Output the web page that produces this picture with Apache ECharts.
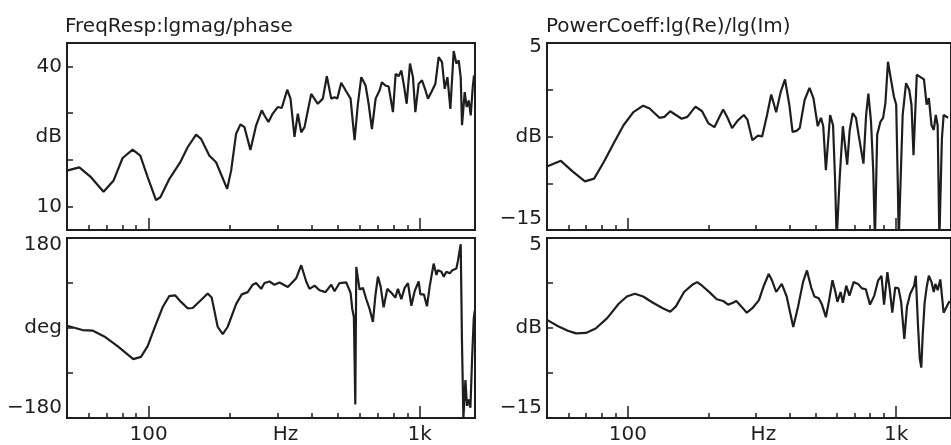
<!DOCTYPE html>
<html><head><meta charset="utf-8">
<script src="https://cdn.jsdelivr.net/npm/echarts@6/dist/echarts.min.js"></script>
<style>html,body{margin:0;padding:0;background:#fff}#c{width:951px;height:445px}</style>
</head><body><div id="c"></div>
<script>
const panelTitles = ['FreqResp:lgmag/phase', 'PowerCoeff:lg(Re)/lg(Im)'];

// frequency axis (Hz)
const freqMin = 50, freqMax = 1600;
const minorTicks = [60, 70, 80, 90, 200, 300, 400, 500, 600, 700, 800, 900];
const majorTicks = [100, 1000];
const xLabelValues = [100, 320, 1000];
const xLabelText = {100: '100', 320: 'Hz', 1000: '1k'};

// FreqResp magnitude [Hz, dB]
const magData = [[50,17.7],[55.5,18.4],[61.3,16.3],[68.2,13.2],[74.3,15.6],[80.2,20.4],[87.3,22.2],[93.2,20.9],[99.2,16.3],[106.5,11.4],[110.5,12.0],[119.2,15.9],[130.9,19.5],[139.3,22.7],[149.7,25.4],[156.1,24.5],[167.6,20.9],[177.4,19.5],[194.9,13.8],[201.6,17.7],[210.3,25.6],[218.2,27.6],[225.7,27.0],[237.5,22.1],[249.3,27.4],[261.5,30.6],[267.6,29.5],[276.8,28.1],[287.1,29.9],[299.6,31.3],[309.9,31.1],[324.6,35.0],[333.8,33.1],[345.3,24.9],[355.2,29.9],[365.6,25.9],[376,27.0],[398,34.1],[421,32.0],[439.3,33.1],[454.5,37.9],[471.8,33.1],[485.3,33.4],[496.6,33.1],[513.6,36.5],[532.8,34.9],[556,33.1],[575.3,24.2],[591.7,32.0],[609,37.7],[631.7,35.9],[648.1,32.0],[666.6,26.6],[688,33.1],[711.7,34.9],[725.7,36.6],[747,35.9],[768.3,35.7],[797,30.2],[815.4,38.4],[836.5,37.9],[856,39.1],[875,35.9],[895.4,32.0],[920.9,40.6],[944.6,37.7],[964,30.2],[991.5,36.3],[1020,37.0],[1050,34.9],[1073,33.1],[1105,34.5],[1143,36.3],[1175,42.0],[1209,40.9],[1237,35.2],[1266,37.7],[1298,30.9],[1335,43.3],[1366,40.6],[1393,41.3],[1417,37.7],[1433,27.4],[1466,34.5],[1491,31.3],[1517,32.7],[1543,29.5],[1570,35.6],[1587,38.1]];

// FreqResp phase [Hz, deg]
const phaseData = [[50,4.5],[53.2,0.6],[57,-4.1],[62.1,-5.2],[68.6,-16.9],[76.8,-36.3],[87.8,-62.3],[93.7,-57.7],[99.2,-36.3],[105,-0.8],[112.6,41.4],[119.2,63.9],[125.2,65.3],[131.7,52.2],[139.3,39.4],[145.4,40],[156.1,56.1],[165.2,69.1],[170.9,60.8],[179.8,2.5],[187.7,-12.4],[195.8,2.5],[210.3,47.8],[220.6,67.2],[232.1,71.7],[242.2,86.6],[249.3,89.9],[260.2,78.3],[267.6,89.9],[279.2,93],[291.3,86.6],[304,91.1],[326.3,82.1],[350.4,99.6],[365.6,125.5],[381.5,93],[392.3,78.3],[409.4,84.7],[427.2,75.5],[449.4,71.7],[471.8,86.6],[485.3,73.6],[506.3,89.9],[536,91.1],[556,70.5],[564.1,38.1],[571.9,21.9],[578.8,-152.8],[583.7,122.2],[600.2,76.9],[617.3,80.2],[635.5,57.5],[653.6,38.1],[672.3,12.2],[686.2,63.9],[701.5,102.7],[717.7,83.3],[736.2,41.4],[759.8,78.3],[786.1,70.5],[813.4,60.8],[831.6,78.3],[856,57.5],[880.2,80.2],[905.4,89.9],[931.8,44.5],[958.3,73.6],[991.5,93],[1006,67.2],[1037,67.2],[1064,43.3],[1089,83.3],[1126,128.8],[1153,106],[1168,115.7],[1203,112.4],[1227,102.7],[1255,112.4],[1291,109.3],[1321,115.7],[1366,119],[1385,135.2],[1417,167.6],[1433,-33.2],[1450,-178.9],[1475,-104.3],[1495,-156.1],[1517,-143.1],[1539,-159.4],[1560,-65.4],[1583,18.6],[1597,34.8]];

// PowerCoeff lg(Re) [Hz, dB]
const reData = [[50,-8.2],[56.3,-7.6],[62.4,-8.75],[69.2,-9.8],[74.9,-9.5],[81.5,-7.7],[88.7,-5.7],[96.4,-3.8],[104.9,-2.4],[114.1,-1.7],[120.6,-2.0],[131.2,-3.0],[136.9,-2.9],[143.9,-2.3],[151.1,-2.7],[158.8,-3.1],[166.7,-2.9],[178.7,-1.8],[189.1,-2.3],[199.8,-3.6],[210.2,-4.0],[218.7,-3.0],[226.7,-2.1],[235.3,-3.0],[244.6,-4.1],[256.6,-3.3],[270.6,-2.7],[279.1,-3.2],[291.1,-5.4],[305.4,-4.9],[316.6,-5.0],[330.2,-2.7],[342.3,-0.5],[357.1,-2.4],[371.5,-0.2],[385.2,1.1],[399.7,-1.6],[411,-4.5],[425.1,-4.4],[437,-4.1],[455.8,-1.1],[475.3,0.2],[491.6,-0.9],[510.1,-3.9],[524.5,-3.0],[534.8,-3.9],[547,-8.6],[567.3,-2.7],[581.7,-3.8],[591.6,-9.5],[600.1,-16],[615.5,-9.5],[632.8,-3.9],[643.6,-3.8],[656.7,-8.0],[671.2,-4.3],[688.4,-2.5],[708.3,-3.0],[724,-4.8],[755.1,-7.9],[772.4,-2.7],[787.5,-0.4],[805.6,-3.4],[821.3,-8.75],[833.1,-16],[849.4,-4.8],[874,-3.4],[893.5,-3.0],[911.6,-1.4],[931.8,3.0],[958.7,0.9],[979.9,-0.7],[1000,-1.6],[1014,-10.2],[1022,-16],[1037,-16],[1057,-2.7],[1088,0.7],[1118,0.0],[1140,-1.6],[1160,-7.0],[1193,1.6],[1240,1.3],[1269,1.1],[1298,-1.6],[1323,-0.9],[1354,-3.8],[1380,-4.3],[1404,-2.7],[1427,-3.8],[1448,-16],[1480,-5.2],[1502,-2.7],[1560,-3]];

// PowerCoeff lg(Im) [Hz, dB]
const imData = [[50,-4.1],[55,-4.8],[59.8,-5.3],[64.2,-5.6],[69.8,-5.55],[75.9,-5.05],[83.8,-3.9],[92.5,-2.3],[99.2,-1.5],[106.3,-1.2],[114.1,-1.5],[124.1,-2.2],[135,-2.8],[143.9,-3.2],[151.1,-2.6],[162,-1.0],[173.8,-0.2],[181.3,0.1],[189.1,-0.3],[202.7,-1.1],[214.5,-1.8],[226.7,-2.0],[236.5,-2.4],[246.6,-2.2],[253.8,-2.0],[264.7,-2.6],[267.7,-2.8],[277.5,-3.3],[291.1,-2.8],[308,-1.9],[321.2,-0.3],[335,1.0],[344.5,0.3],[357.1,-1.0],[374.6,-0.1],[390.8,-1.5],[413.4,-4.9],[431.1,-2.6],[449.6,0.1],[465,1.4],[482.2,-0.5],[495.8,-1.5],[514.5,-1.7],[528.9,-2.4],[547,-3.8],[562.5,-1.9],[578.8,0.3],[591.6,-0.8],[603.7,-2.1],[620.6,-1.0],[632.8,-2.2],[651.3,-0.3],[669.5,-1.4],[694.2,0.1],[720.4,-0.1],[745.1,-0.6],[770.5,-0.7],[798.7,-2.4],[828.5,-1.4],[856.7,0.3],[881.4,0.8],[900.9,-2.4],[927,1.2],[945.1,-0.6],[966.9,-3.3],[991.6,-0.5],[1020,-0.6],[1043,-2.1],[1072,-6.2],[1097,-2.6],[1128,-1.2],[1166,-0.3],[1183,0.8],[1206,-4.8],[1224,-8.4],[1240,-9.4],[1255,-5.8],[1276,-2.2],[1298,-0.5],[1323,0.8],[1354,0.1],[1380,-1.0],[1400,-0.1],[1427,-0.8],[1460,0.4],[1502,-3.3],[1580,-2]];

// y-axes: ranges, tick values, label values & texts
const yRanges = [[5, 45], [-180, 180], [-15, 5], [-15, 5]];
const yTicks = [[10, 20, 30, 40], [-90, 0, 90], [-10, -5, 0], [-10, -5, 0]];
const yLabelValues = [[10, 25, 40], [-180, 0, 180], [-15, -5, 5], [-15, -5, 5]];
const yLabelTexts = [
  {10: '10', 25: 'dB', 40: '40'},
  {'-180': '\u2212180', 0: 'deg', 180: '180'},
  {'-15': '\u221215', '-5': 'dB', 5: '5'},
  {'-15': '\u221215', '-5': 'dB', 5: '5'}
];

const INK = '#1e1e1e';
const FONT = 'DejaVu Sans';
const grids = [
  {left: 67, top: 43, width: 408, height: 187},
  {left: 67, top: 238, width: 408, height: 186},
  {left: 547, top: 43, width: 412, height: 187},
  {left: 547, top: 238, width: 412, height: 186}
];
const topPad = [0, 14, 7, 14];
const botPad = [0, 21, 23, 21];
const seriesData = [magData, phaseData, reData, imData];
const showXLabels = [false, true, false, true];

const option = {
  animation: false,
  backgroundColor: '#fff',
  title: [
    {text: panelTitles[0], left: 65, top: 17, padding: 0,
     textStyle: {fontFamily: FONT, fontSize: 20, fontWeight: 'normal', color: INK}},
    {text: panelTitles[1], left: 546, top: 17, padding: 0,
     textStyle: {fontFamily: FONT, fontSize: 20, fontWeight: 'normal', color: INK}}
  ],
  grid: grids.map(g => Object.assign({show: true, borderColor: INK, borderWidth: 2, backgroundColor: 'transparent', containLabel: false}, g)),
  xAxis: [],
  yAxis: [],
  series: []
};

grids.forEach((g, i) => {
  option.xAxis.push({
    type: 'log', logBase: 10, gridIndex: i, min: freqMin, max: freqMax, position: 'bottom',
    axisLine: {show: false, onZero: false}, splitLine: {show: false},
    axisTick: {show: true, inside: true, length: 5, customValues: minorTicks, lineStyle: {color: INK, width: 1.5}},
    axisLabel: {show: showXLabels[i], customValues: xLabelValues, margin: 7,
      formatter: v => xLabelText[Math.round(v)] || '',
      fontFamily: FONT, fontSize: 20, color: INK}
  });
  option.xAxis.push({
    type: 'log', logBase: 10, gridIndex: i, min: freqMin, max: freqMax, position: 'bottom',
    axisLine: {show: false, onZero: false}, splitLine: {show: false},
    axisTick: {show: true, inside: true, length: 12, customValues: majorTicks, lineStyle: {color: INK, width: 1.5}},
    axisLabel: {show: false}
  });
  const [mn, mx] = yRanges[i];
  const texts = yLabelTexts[i];
  option.yAxis.push({
    type: 'value', gridIndex: i, min: mn, max: mx, position: 'left',
    axisLine: {show: false, onZero: false}, splitLine: {show: false},
    axisTick: {show: true, inside: true, length: 6, customValues: yTicks[i], lineStyle: {color: INK, width: 1.5}},
    axisLabel: {show: true, customValues: yLabelValues[i], margin: 5,
      fontFamily: FONT, fontSize: 20, color: INK,
      formatter: v => {
        const t = texts[v];
        if (t === undefined) return '';
        if (v === mx && topPad[i]) return '{t|' + t + '}';
        if (v === mn && botPad[i]) return '{b|' + t + '}';
        return t;
      },
      rich: {
        t: {fontFamily: FONT, fontSize: 20, color: INK, padding: [topPad[i], 0, 0, 0]},
        b: {fontFamily: FONT, fontSize: 20, color: INK, padding: [0, 0, botPad[i], 0]}
      }
    }
  });
  option.series.push({
    type: 'line', xAxisIndex: 2 * i, yAxisIndex: i, data: seriesData[i],
    showSymbol: false, symbol: 'none', clip: true,
    lineStyle: {color: INK, width: 2.2}
  });
});

const chart = echarts.init(document.getElementById('c'), null, {renderer: 'canvas'});
chart.setOption(option);
</script>
</body></html>
